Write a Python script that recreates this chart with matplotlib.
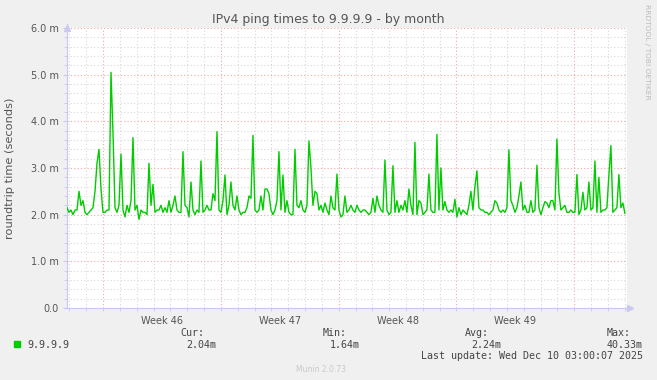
import numpy as np
import matplotlib
matplotlib.use("Agg")
import matplotlib.pyplot as plt
from matplotlib.patches import Rectangle

# ping times in ms, one sample every ~2.85 h over the month
ping_ms = [
    2.15, 2.05, 2.1, 2.0, 2.1, 2.1, 2.5, 2.2, 2.3, 2.05, 2.0, 2.05, 2.1, 2.15, 2.5, 3.1,
    3.4, 2.55, 2.05, 2.05, 2.1, 2.1, 5.05, 3.75, 2.15, 2.05, 2.2, 3.3, 2.1, 1.95, 2.2, 2.05,
    2.3, 3.65, 2.1, 2.2, 1.9, 2.1, 2.05, 2.05, 2.0, 3.1, 2.2, 2.65, 2.05, 2.1,
    2.1, 2.2, 2.05, 2.15, 2.05, 2.3, 2.05, 2.2, 2.4, 2.1, 2.05, 2.05, 3.35, 2.2, 2.15, 1.95,
    2.7, 2.1, 2.0, 2.1, 2.05, 3.15, 2.05, 2.1, 2.2, 2.1, 2.1, 2.45, 2.3, 3.78, 2.1, 2.05,
    2.3, 2.85, 2.0, 2.2, 2.7, 2.2, 2.1, 2.4, 2.1, 2.0, 2.05, 2.05, 2.15, 2.4,
    2.35, 3.7, 2.1, 2.05, 2.1, 2.4, 2.1, 2.55, 2.55, 2.45, 2.1, 2.0, 2.1, 2.3, 3.35, 2.1,
    2.85, 2.05, 2.3, 2.05, 2.0, 2.0, 3.4, 2.2, 2.15, 2.3, 2.1, 2.05, 2.2, 3.58, 3.0, 2.2,
    2.5, 2.45, 2.1, 2.2, 2.05, 2.25, 2.1, 2.0, 2.4, 2.15, 2.1, 2.87, 2.1, 1.95,
    2.0, 2.4, 2.05, 2.1, 2.2, 2.1, 2.05, 2.2, 2.1, 2.05, 2.1, 2.1, 2.05, 2.0, 2.05, 2.35,
    2.05, 2.4, 2.2, 2.1, 2.05, 3.17, 2.1, 2.0, 2.05, 3.05, 2.05, 2.3, 2.05, 2.2, 2.1, 2.3,
    2.05, 2.55, 2.2, 2.0, 3.55, 2.0, 2.3, 2.25, 2.0, 2.05, 2.1, 2.87, 2.1, 2.05, 2.05,
    3.72, 2.1, 3.0, 2.1, 2.28, 2.1, 2.05, 2.1, 2.05, 2.33, 1.95, 2.15, 2.0, 2.1, 2.05, 2.0,
    2.2, 2.5, 2.1, 2.6, 2.94, 2.15, 2.1, 2.1, 2.05, 2.05, 2.0, 2.05, 2.1, 2.3, 2.25, 2.1,
    2.05, 2.1, 2.05, 2.15, 3.39, 2.3, 2.2, 2.05, 2.15, 2.4, 2.7, 2.1, 2.2, 2.05,
    2.05, 2.3, 2.05, 2.1, 3.06, 2.15, 2.0, 2.15, 2.28, 2.25, 2.15, 2.3, 2.3, 2.1, 3.62, 2.47,
    2.1, 2.15, 2.2, 2.05, 2.05, 2.1, 2.05, 2.05, 2.86, 2.0, 2.1, 2.48, 2.1, 2.15, 2.7, 2.1,
    2.15, 3.15, 2.05, 2.8, 2.05, 2.1, 2.1, 2.15, 2.85, 3.48, 2.05, 2.1, 2.15, 2.86, 2.15, 2.25,
    2.03,
]
step_days = 0.1188
span_days = 33.27
first_week_start = 2.14
week_labels = ["Week 46", "Week 47", "Week 48", "Week 49"]
y_ticks = [0, 1, 2, 3, 4, 5, 6]
y_labels = ["0.0", "1.0 m", "2.0 m", "3.0 m", "4.0 m", "5.0 m", "6.0 m"]
legend_name = "9.9.9.9"
cur, vmin, avg, vmax = "2.04m", "1.64m", "2.24m", "40.33m"

W, H = 657, 380
def fx(p): return p / W
def fy(p): return 1 - p / H

fig = plt.figure(figsize=(W / 100, H / 100), dpi=100, facecolor="#F0F0F0")
ax = fig.add_axes([fx(67), fy(308), 560 / W, 280 / H])
ax.set_facecolor("white")

t = np.arange(len(ping_ms)) * step_days

# grid: minor gray dotted, major red dotted
dots = (0, (1, 2))
for d in np.arange(first_week_start - 2, span_days, 1.0):
    if d <= 0.01:
        continue
    major = abs(((d - first_week_start) / 7) - round((d - first_week_start) / 7)) < 1e-3
    ax.axvline(d, color="#F0A8A8" if major else "#D8D8D8", lw=0.8, ls=dots, zorder=1)
for v in np.arange(0.2, 6.01, 0.2):
    major = abs(v - round(v)) < 1e-6
    ax.axhline(v, color="#F0A8A8" if major else "#D8D8D8", lw=0.8, ls=dots, zorder=1)

ax.plot(t, ping_ms, color="#00CC00", lw=1.0, zorder=3)

ax.set_xlim(0, span_days)
ax.set_ylim(0, 6.0)

for s in ["top", "right"]:
    ax.spines[s].set_visible(False)
for s in ["left", "bottom"]:
    ax.spines[s].set_color("#C8C8F0")
    ax.spines[s].set_linewidth(0.8)

ax.set_yticks(y_ticks)
ax.set_yticklabels(y_labels)
ax.set_yticks(np.arange(0, 6.01, 0.2), minor=True)
mid = [first_week_start + 3.5 + 7 * i for i in range(len(week_labels))]
ax.set_xticks(mid)
ax.set_xticklabels(week_labels)
ax.set_xticks(np.arange(first_week_start - 2, span_days, 1.0), minor=True)
ax.tick_params(axis="x", which="major", length=0, pad=6, labelsize=7, labelcolor="#555555")
ax.tick_params(axis="y", which="major", length=3, color="#C8C8F0", pad=3, labelsize=7, labelcolor="#555555")
ax.tick_params(which="minor", length=2.5, color="#C8C8F0")

# axis arrows
ax.plot([0], [1.0], transform=ax.transAxes, marker="^", ms=4, color="#C8C8F0", clip_on=False)
ax.plot([0, 0], [1.0, 1.015], transform=ax.transAxes, color="#C8C8F0", lw=0.8, clip_on=False)
ax.plot([1.0, 1.006], [0, 0], transform=ax.transAxes, color="#C8C8F0", lw=0.8, clip_on=False)
ax.plot([1.006], [0], transform=ax.transAxes, marker=">", ms=4, color="#C8C8F0", clip_on=False)

fig.text(fx(10), fy(168), "roundtrip time (seconds)", rotation=90, ha="center", va="center",
         fontsize=8.2, color="#555555")

fig.text(fx(328), fy(19), "IPv4 ping times to 9.9.9.9 - by month", ha="center", va="center",
         fontsize=9, color="#555555")
fig.text(fx(647), fy(52), "RRDTOOL / TOBI OETIKER", rotation=270, ha="center", va="center",
         fontsize=5.4, color="#BBBBBB")

mono = dict(family="DejaVu Sans Mono", fontsize=7.2, color="#444444", va="center")
fig.add_artist(Rectangle((fx(14), fy(347)), 6 / W, 6 / H, color="#00CC00", transform=fig.transFigure))
fig.text(fx(27), fy(345), legend_name, **mono)
fig.text(fx(180), fy(333), "Cur:", **mono)
fig.text(fx(186), fy(345), cur, **mono)
fig.text(fx(323), fy(333), "Min:", **mono)
fig.text(fx(330), fy(345), vmin, **mono)
fig.text(fx(465), fy(333), "Avg:", **mono)
fig.text(fx(471), fy(345), avg, **mono)
fig.text(fx(607), fy(333), "Max:", **mono)
fig.text(fx(607), fy(345), vmax, **mono)
fig.text(fx(421), fy(356), "Last update: Wed Dec 10 03:00:07 2025", **mono)
fig.text(fx(321), fy(369), "Munin 2.0.73", ha="center", va="center", fontsize=5.5, color="#C8C8C8")

fig.savefig("out.png", dpi=100, facecolor=fig.get_facecolor())
